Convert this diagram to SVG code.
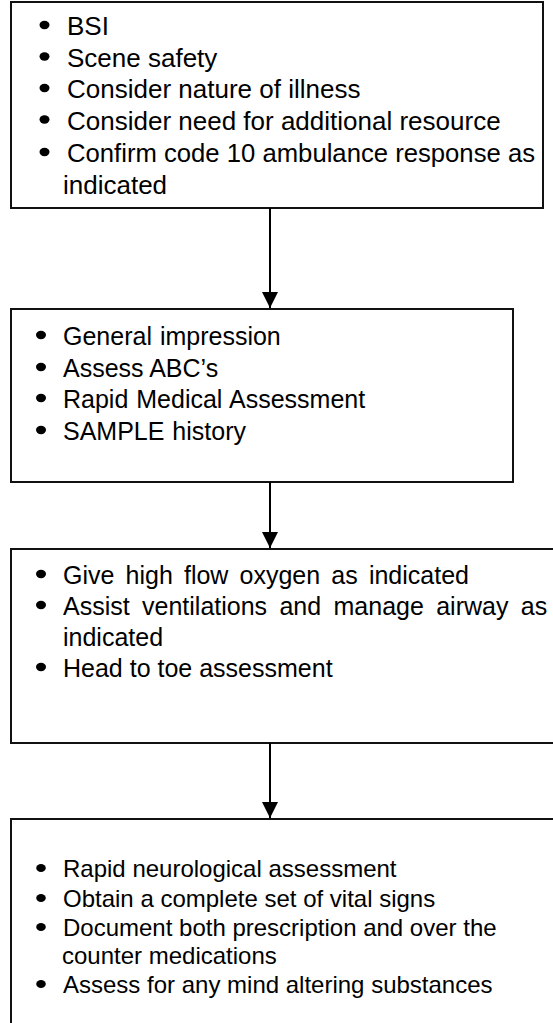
<svg xmlns="http://www.w3.org/2000/svg" width="553" height="1023" viewBox="0 0 553 1023">
  <style>
    .box { fill: #fff; stroke: #111; stroke-width: 2; }
    .txt { font-family: "Liberation Sans", Arial, sans-serif; fill: #000; }
    .f26 { font-size: 26px; }
    .f25 { font-size: 25px; }
    .f24 { font-size: 24px; }
    .dot { fill: #000; }
    .link { stroke: #000; stroke-width: 2; fill: none; }
  </style>
  <defs>
    <marker id="arrowhead" markerUnits="userSpaceOnUse" markerWidth="16" markerHeight="16" refX="16" refY="8" orient="auto">
      <path d="M0,0 L16,8 L0,16 Z" fill="#000"/>
    </marker>
  </defs>
  <rect width="553" height="1023" fill="#fff"/>

  <!-- scene arrival -->
  <g id="scene-size-up">
    <rect class="box" x="11" y="2" width="532" height="206"/>
    <ellipse class="dot" cx="44.5" cy="25" rx="5" ry="4.2"/>
    <text class="txt f26" x="67" y="35">BSI</text>
    <ellipse class="dot" cx="44.5" cy="56.5" rx="5" ry="4.2"/>
    <text class="txt f26" x="67" y="66.5">Scene safety</text>
    <ellipse class="dot" cx="44.5" cy="88" rx="5" ry="4.2"/>
    <text class="txt f26" x="67" y="98">Consider nature of illness</text>
    <ellipse class="dot" cx="44.5" cy="119.5" rx="5" ry="4.2"/>
    <text class="txt f26" x="67" y="129.5">Consider need for additional resource</text>
    <ellipse class="dot" cx="44.5" cy="152" rx="5" ry="4.2"/>
    <text class="txt f26" x="67" y="162" textLength="468" lengthAdjust="spacingAndGlyphs">Confirm code 10 ambulance response as</text>
    <text class="txt f26" x="63" y="194">indicated</text>
  </g>

  <!-- initial assessment -->
  <g id="initial-assessment">
    <rect class="box" x="11" y="309" width="502" height="173"/>
    <ellipse class="dot" cx="41" cy="335" rx="5" ry="4.2"/>
    <text class="txt f25" x="63" y="345" word-spacing="1">General impression</text>
    <ellipse class="dot" cx="41" cy="367" rx="5" ry="4.2"/>
    <text class="txt f25" x="63" y="377">Assess ABC’s</text>
    <ellipse class="dot" cx="41" cy="398" rx="5" ry="4.2"/>
    <text class="txt f25" x="63" y="408" word-spacing="1">Rapid Medical Assessment</text>
    <ellipse class="dot" cx="41" cy="430" rx="5" ry="4.2"/>
    <text class="txt f25" x="63" y="440" word-spacing="1">SAMPLE history</text>
  </g>

  <!-- treatment -->
  <g id="treatment">
    <rect class="box" x="11" y="549" width="560" height="194"/>
    <ellipse class="dot" cx="41" cy="574" rx="5" ry="4.2"/>
    <text class="txt f25" x="63" y="584" word-spacing="4.2">Give high flow oxygen as indicated</text>
    <ellipse class="dot" cx="41" cy="605" rx="5" ry="4.2"/>
    <text class="txt f25" x="63" y="615" word-spacing="5.4">Assist ventilations and manage airway as</text>
    <text class="txt f25" x="63" y="646">indicated</text>
    <ellipse class="dot" cx="41" cy="667" rx="5" ry="4.2"/>
    <text class="txt f25" x="63" y="677">Head to toe assessment</text>
  </g>

  <!-- focused history -->
  <g id="focused-history">
    <rect class="box" x="11" y="819" width="560" height="220"/>
    <ellipse class="dot" cx="41" cy="868" rx="4.8" ry="4"/>
    <text class="txt f24" x="63" y="877">Rapid neurological assessment</text>
    <ellipse class="dot" cx="41" cy="898" rx="4.8" ry="4"/>
    <text class="txt f24" x="63" y="907">Obtain a complete set of vital signs</text>
    <ellipse class="dot" cx="41" cy="927" rx="4.8" ry="4"/>
    <text class="txt f24" x="63" y="936">Document both prescription and over the</text>
    <text class="txt f24" x="62" y="964">counter medications</text>
    <ellipse class="dot" cx="41" cy="984" rx="4.8" ry="4"/>
    <text class="txt f24" x="63" y="993">Assess for any mind altering substances</text>
  </g>

  <!-- connectors -->
  <g id="connectors">
    <line class="link" x1="270" y1="208" x2="270" y2="308" marker-end="url(#arrowhead)"/>
    <line class="link" x1="270" y1="482" x2="270" y2="548" marker-end="url(#arrowhead)"/>
    <line class="link" x1="270" y1="743" x2="270" y2="818" marker-end="url(#arrowhead)"/>
  </g>
</svg>
